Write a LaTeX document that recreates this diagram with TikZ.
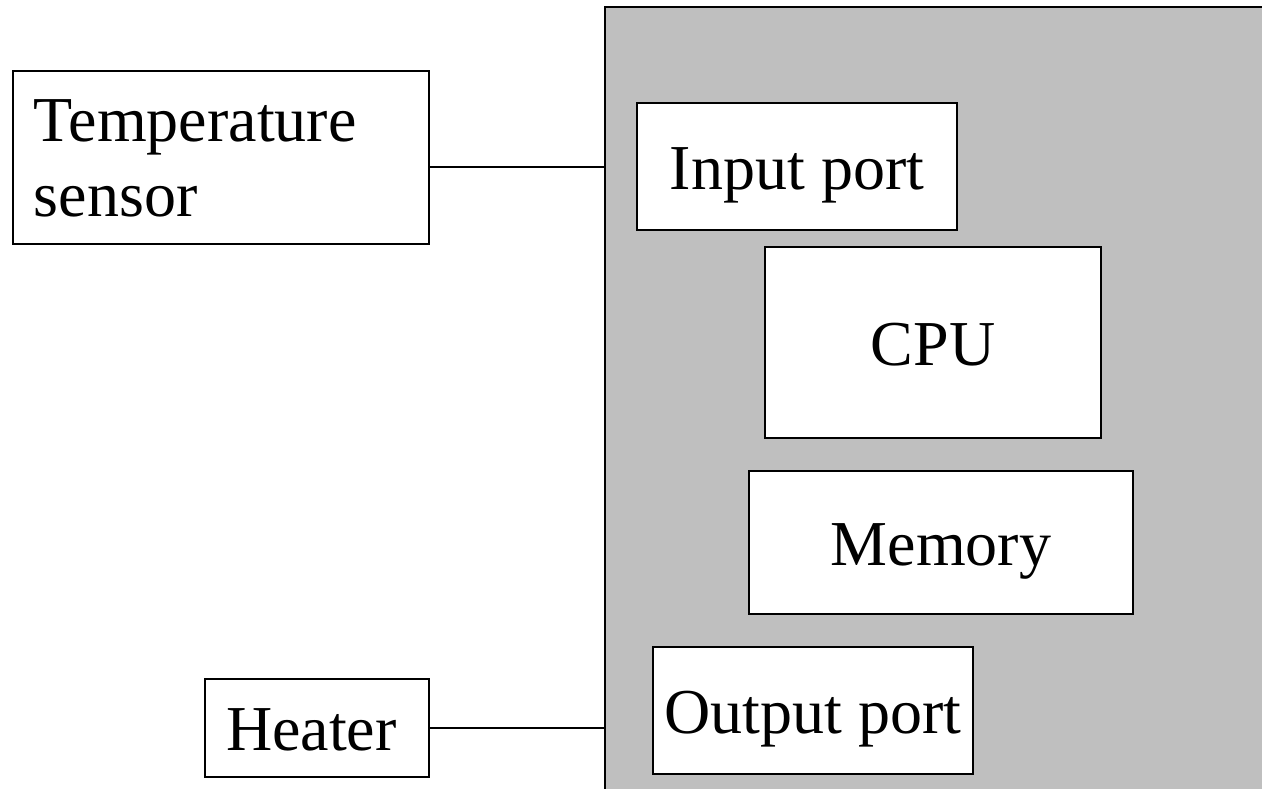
\documentclass[tikz,border=0pt]{standalone}
\usepackage{fontspec}
\setmainfont{Liberation Serif}
\begin{document}
\begin{tikzpicture}[x=1pt,y=-1pt,
  box/.style={draw=black,line width=2pt,fill=white,rectangle,inner sep=0pt,
    font=\fontsize{64}{75}\selectfont,text height=45pt,text depth=0pt},
  leftbox/.style={box,align=left,inner xsep=21pt},
  wire/.style={draw=black,line width=2pt}]
\useasboundingbox (0,0) rectangle (1262,788);
\clip (0,0) rectangle (1262,788);
% microcontroller body, running past the right and bottom edges
\node[draw=black,line width=2pt,fill=black!25,rectangle,inner sep=0pt,
  minimum width=695pt,minimum height=813pt] (mcu) at (952.5,413.5) {};
% external devices
\node[leftbox,minimum width=416pt,minimum height=173pt,text width=374pt,
  text height=46pt,text depth=79pt] (temp) at (221,157.5) {Temperature\\sensor};
\node[leftbox,minimum width=224pt,minimum height=98pt,text width=182pt] (heater) at (317,728) {Heater};
% internal blocks
\node[box,minimum width=320pt,minimum height=127pt] (inport) at (797,166.5) {Input port};
\node[box,minimum width=336pt,minimum height=191pt] (cpu) at (933,342.5) {CPU};
\node[box,minimum width=384pt,minimum height=143pt] (mem) at (941,542.5) {Memory};
\node[box,minimum width=320pt,minimum height=127pt] (outport) at (813,710.5) {Output port};
% wiring
\coordinate (tin) at (605,167);
\draw[wire] (temp.east |- tin) -- (tin);
\draw[wire] (heater.east) -- (heater.east -| mcu.west);
\end{tikzpicture}
\end{document}
